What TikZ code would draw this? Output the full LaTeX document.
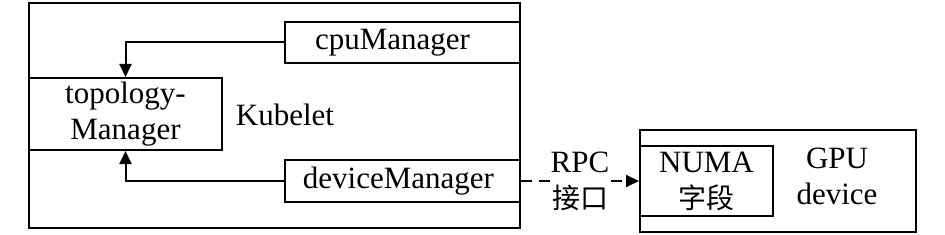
\documentclass[tikz,border=0pt]{standalone}
\usepackage{fontspec}
\setmainfont{Liberation Serif}
\newfontfamily\cjk{Noto Sans CJK SC}
\usetikzlibrary{arrows.meta}
\tikzset{
  box/.style={draw,line width=2pt,inner sep=0pt,align=center},
  lbl/.style={inner sep=1pt,align=center},
  big/.style={font=\fontsize{31}{36}\selectfont},
  link/.style={line width=2pt,-{Triangle[length=13pt,width=12pt]}}
}
\begin{document}
\begin{tikzpicture}[x=1pt,y=-1pt,big]
  \useasboundingbox (0,0) rectangle (945,235);
  % Kubelet side
  \node[box,minimum width=491pt,minimum height=225pt] (kubelet) at (274.5,115.5) {};
  \node[box,minimum width=235pt,minimum height=41pt] (cpu) at (402.5,42.5) {cpuManager\hspace*{20pt}};
  \node[box,minimum width=193pt,minimum height=72pt] (topo) at (125.5,114) {topology-\\Manager};
  \node[box,minimum width=235pt,minimum height=42pt] (dev) at (402.5,181) {deviceManager\hspace*{8pt}};
  \node[lbl] (kubeletlbl) at (285,115) {Kubelet};
  \draw[link] (cpu.west) -| (topo.north);
  \draw[link] (dev.west) -| (topo.south);
  % GPU side
  \node[box,minimum width=276pt,minimum height=102pt] (gpu) at (778,181) {};
  \node[box,minimum width=133pt,minimum height=70pt] (numa) at (706.5,181) {NUMA\\{\cjk\fontsize{28}{36}\selectfont 字段}};
  \node[lbl] (gpulbl) at (837,176) {GPU\\device};
  % RPC link
  \draw[link,dash pattern=on 11pt off 7pt] (dev.east) -- node[lbl,fill=white] (rpc) {RPC\\{\cjk\fontsize{28}{36}\selectfont 接口}} (numa.west);
\end{tikzpicture}
\end{document}
